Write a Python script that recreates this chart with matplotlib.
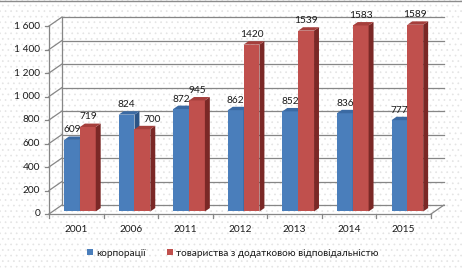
import matplotlib
matplotlib.use('Agg')
import matplotlib.pyplot as plt
from matplotlib.patches import Rectangle, Polygon
from matplotlib.lines import Line2D

years = ['2001', '2006', '2011', '2012', '2013', '2014', '2015']
corporations = [609, 824, 872, 862, 852, 836, 777]
llc = [719, 700, 945, 1420, 1539, 1583, 1589]
series_names = ['корпорації', 'товариства з додатковою відповідальністю']
y_ticks = [0, 200, 400, 600, 800, 1000, 1200, 1400, 1600]
y_tick_labels = ['0', '200', '400', '600', '800', '1 000', '1 200', '1 400', '1 600']

plt.rcParams['font.family'] = ['Lato', 'Noto Sans', 'DejaVu Sans']
plt.rcParams['hatch.linewidth'] = 0.5

W, H = 462, 268
fig = plt.figure(figsize=(W / 100, H / 100), dpi=100)
fig.patch.set_facecolor('white')
bg = Rectangle((0, 0), 1, 1, transform=fig.transFigure, facecolor='white',
               edgecolor='#e4e4e4', hatch='...', lw=0, zorder=-5)
fig.patches.append(bg)
fig.add_artist(Line2D([0, 1], [0.998, 0.998], transform=fig.transFigure,
                      color='#8c8c8c', lw=1))

cat_px = (431 - 49) / 7
val_px = 188 / 1600
ax = fig.add_axes([49 / W, 54 / H, (446 - 49) / W, 198 / H])
ax.set_xlim(-0.5, -0.5 + (446 - 49) / cat_px)
ax.set_ylim(0, 198 / val_px)
ax.axis('off')
ax.patch.set_visible(False)

DX = 13 / cat_px
DY = 9 / val_px
n = len(years)
xl, xr = -0.5, n - 0.5
gcol = '#868686'
glw = 0.9
tcol = '#1a1a1a'

# walls / gridlines
for v, lab in zip(y_ticks, y_tick_labels):
    ax.plot([xl + DX, xr + DX], [v + DY, v + DY], color=gcol, lw=glw, zorder=0.5, clip_on=False)
    ax.plot([xl, xl + DX], [v, v + DY], color=gcol, lw=glw, zorder=0.5, clip_on=False)
    ax.plot([xl - 4 / cat_px, xl], [v, v], color=gcol, lw=glw, zorder=0.5, clip_on=False)
    ax.text(xl - 9 / cat_px, v, lab, ha='right', va='center', fontsize=7.3, color=tcol)
ax.plot([xl, xl], [0, y_ticks[-1]], color=gcol, lw=glw, zorder=0.5, clip_on=False)
ax.plot([xl + DX, xl + DX], [DY, y_ticks[-1] + DY], color=gcol, lw=glw, zorder=0.5, clip_on=False)
ax.plot([xl, xr], [0, 0], color=gcol, lw=glw, zorder=0.5, clip_on=False)
ax.plot([xr, xr + DX], [0, DY], color=gcol, lw=glw, zorder=0.5, clip_on=False)
for k in range(n + 1):
    ax.plot([k - 0.5, k - 0.5], [0, -4 / val_px], color=gcol, lw=glw, zorder=0.5, clip_on=False)
for i, yr in enumerate(years):
    ax.text(i, -15.5 / val_px, yr, ha='center', va='center', fontsize=7.3, color=tcol)

# bars
w = 0.29
f0 = 0.28
fd = 0.38
styles = [
    dict(front='#4a7ebb', side='#2c5485', top='#3b6aa3'),
    dict(front='#c0504d', side='#7a2826', top='#a53f3c'),
]
for i in range(n):
    for s, vals in enumerate([corporations, llc]):
        v = vals[i]
        st = styles[s]
        left = i - w + s * w + f0 * DX
        b = f0 * DY
        t = v + b
        ax.bar(left, v, width=w, bottom=b, align='edge', color=st['front'],
               edgecolor='none', zorder=1)
        rgt = left + w
        ax.add_patch(Polygon([(rgt, b), (rgt + fd * DX, b + fd * DY),
                              (rgt + fd * DX, t + fd * DY), (rgt, t)],
                             closed=True, facecolor=st['side'], edgecolor='none', zorder=1))
        ax.add_patch(Polygon([(left, t), (rgt, t), (rgt + fd * DX, t + fd * DY),
                              (left + fd * DX, t + fd * DY)],
                             closed=True, facecolor=st['top'], edgecolor='none', zorder=1))
        # move a lower second-series label right so it clears the taller neighbour
        shift = 10 if (s == 1 and llc[i] < corporations[i]) else 0
        ax.annotate(str(v), (left + w / 2, t + fd * DY), xytext=(shift * 0.72, 1.5),
                    textcoords='offset points', ha='center', va='bottom',
                    fontsize=7.3, color=tcol, zorder=3)

handles = [Rectangle((0, 0), 1, 1, facecolor=styles[0]['front']),
           Rectangle((0, 0), 1, 1, facecolor=styles[1]['front'])]
fig.legend(handles, series_names, loc='center', bbox_to_anchor=(233 / W, 15 / H),
           ncol=2, frameon=False, fontsize=7.2, handlelength=0.6, handleheight=0.6,
           handletextpad=0.3, columnspacing=2.2, labelcolor=tcol)

fig.savefig('out.png', dpi=100, facecolor='white')
